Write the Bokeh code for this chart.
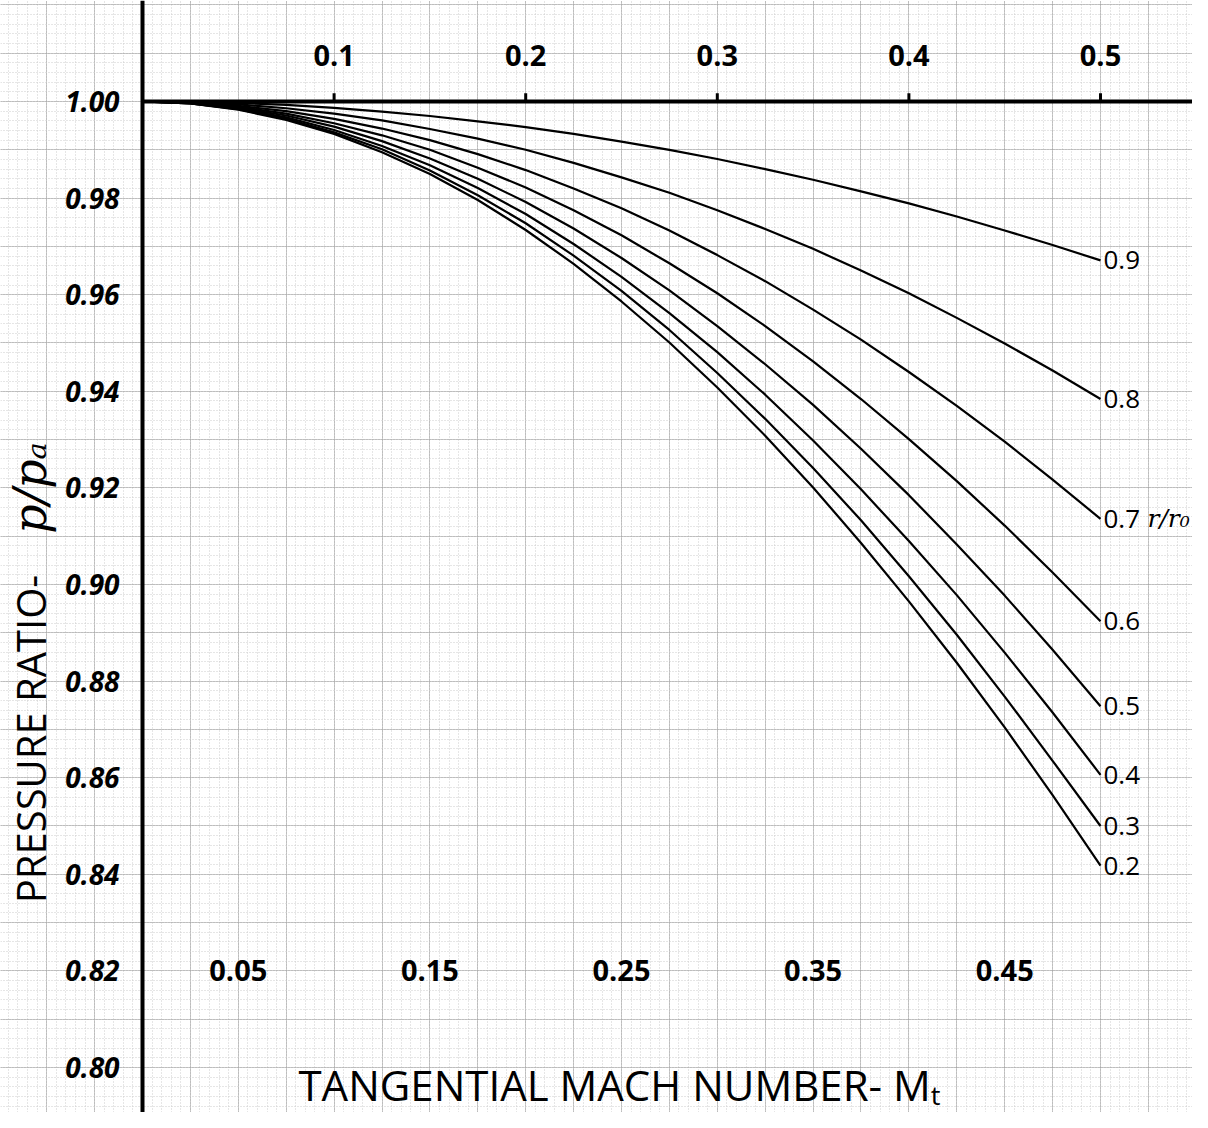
import math
import numpy as np
from bokeh.plotting import figure
from bokeh.models import Range1d, Grid, FixedTicker, Span, Label, ColumnDataSource
from bokeh.core.properties import value
from bokeh.embed import file_html
from bokeh.resources import INLINE

# ---------------- data ----------------
mach = [0.0, 0.025, 0.05, 0.075, 0.1, 0.125, 0.15, 0.175, 0.2, 0.225, 0.25,
        0.275, 0.3, 0.325, 0.35, 0.375, 0.4, 0.425, 0.45, 0.475, 0.5]

p_r02 = [1.0, 0.9996, 0.9983, 0.9962, 0.9933, 0.9895, 0.9850, 0.9796, 0.9734, 0.9664, 0.9586,
         0.9501, 0.9408, 0.9308, 0.9201, 0.9086, 0.8965, 0.8838, 0.8704, 0.8564, 0.8418]
p_r03 = [1.0, 0.9996, 0.9984, 0.9964, 0.9936, 0.9901, 0.9857, 0.9806, 0.9748, 0.9681, 0.9608,
         0.9527, 0.9438, 0.9343, 0.9241, 0.9133, 0.9017, 0.8896, 0.8768, 0.8635, 0.8500]
p_r04 = [1.0, 0.9996, 0.9985, 0.9967, 0.9941, 0.9908, 0.9868, 0.9821, 0.9767, 0.9705, 0.9637,
         0.9562, 0.9481, 0.9393, 0.9298, 0.9197, 0.9090, 0.8978, 0.8859, 0.8735, 0.8606]
p_r05 = [1.0, 0.9997, 0.9987, 0.9971, 0.9948, 0.9918, 0.9882, 0.9840, 0.9792, 0.9737, 0.9676,
         0.9609, 0.9535, 0.9456, 0.9372, 0.9281, 0.9185, 0.9083, 0.8977, 0.8865, 0.8748]
p_r06 = [1.0, 0.9997, 0.9989, 0.9975, 0.9955, 0.9930, 0.9900, 0.9863, 0.9822, 0.9775, 0.9723,
         0.9665, 0.9603, 0.9535, 0.9462, 0.9384, 0.9301, 0.9214, 0.9122, 0.9025, 0.8924]
p_r07 = [1.0, 0.9998, 0.9991, 0.9980, 0.9964, 0.9944, 0.9920, 0.9891, 0.9858, 0.9820, 0.9779,
         0.9733, 0.9682, 0.9628, 0.9569, 0.9507, 0.9440, 0.9370, 0.9296, 0.9217, 0.9136]
p_r08 = [1.0, 0.9998, 0.9994, 0.9986, 0.9975, 0.9961, 0.9943, 0.9923, 0.9900, 0.9873, 0.9843,
         0.9811, 0.9775, 0.9736, 0.9695, 0.9650, 0.9603, 0.9552, 0.9499, 0.9443, 0.9384]
p_r09 = [1.0, 0.9999, 0.9997, 0.9993, 0.9987, 0.9979, 0.9970, 0.9959, 0.9947, 0.9933, 0.9917,
         0.9900, 0.9881, 0.9860, 0.9838, 0.9814, 0.9789, 0.9762, 0.9733, 0.9703, 0.9671]

radius_labels = ["0.2", "0.3", "0.4", "0.5", "0.6", "0.7", "0.8", "0.9"]
series = [p_r02, p_r03, p_r04, p_r05, p_r06, p_r07, p_r08, p_r09]

top_ticks = [0.1, 0.2, 0.3, 0.4, 0.5]
top_tick_labels = ["0.1", "0.2", "0.3", "0.4", "0.5"]
bottom_ticks = [0.05, 0.15, 0.25, 0.35, 0.45]
bottom_tick_labels = ["0.05", "0.15", "0.25", "0.35", "0.45"]
y_ticks = [1.00, 0.98, 0.96, 0.94, 0.92, 0.90, 0.88, 0.86, 0.84, 0.82, 0.80]
y_tick_labels = ["1.00", "0.98", "0.96", "0.94", "0.92", "0.90", "0.88", "0.86", "0.84", "0.82", "0.80"]

# ---------------- figure ----------------
X0, X1 = -0.074113, 0.548017
Y0, Y1 = 0.790683, 1.020911
FONT = "Open Sans"

p = figure(width=1192, height=1112, x_range=Range1d(X0, X1), y_range=Range1d(Y0, Y1),
           output_backend="svg", toolbar_location=None, x_axis_type=None, y_axis_type=None,
           min_border=0)
p.outline_line_color = None
p.background_fill_color = "white"
p.border_fill_color = "white"

# graph-paper grid
xmaj = list(np.round(np.arange(-0.075, 0.576, 0.025), 4))
xmin = list(np.round(np.arange(-0.075, 0.556, 0.005), 4))
ymaj = list(np.round(np.arange(0.78, 1.031, 0.01), 4))
ymin = list(np.round(np.arange(0.786, 1.023, 0.002), 4))
for dim, maj, mn in ((0, xmaj, xmin), (1, ymaj, ymin)):
    g = Grid(dimension=dim, ticker=FixedTicker(ticks=maj, minor_ticks=mn),
             grid_line_color="#949494", grid_line_width=1, grid_line_dash="1 1",
             minor_grid_line_color="#cdcdcd", minor_grid_line_width=1, minor_grid_line_dash="1 2")
    p.add_layout(g)

# axes lines
p.add_layout(Span(location=0, dimension="height", line_color="black", line_width=4))
p.segment(x0=[0.0], y0=[1.0], x1=[X1], y1=[1.0], line_color="black", line_width=4)
p.segment(x0=top_ticks, y0=[1.0] * len(top_ticks), x1=top_ticks, y1=[1.0017] * len(top_ticks),
          line_color="black", line_width=3)

# curves
for vals in series:
    p.line(mach, vals, line_color="black", line_width=2.2, line_join="round")

# curve end labels
end_src = ColumnDataSource(dict(x=[mach[-1]] * len(series), y=[v[-1] for v in series],
                                text=radius_labels))
p.text(x="x", y="y", text="text", source=end_src, x_offset=3, text_align="left",
       text_baseline="middle", text_font=value(FONT), text_font_size="26px", text_color="black")
p.add_layout(Label(x=mach[-1], y=p_r07[-1], x_offset=47, text="r/r\u2080", text_font="DejaVu Serif",
                   text_font_style="italic", text_font_size="25px", text_baseline="middle",
                   text_align="left", text_color="black"))

# tick labels
p.text(x=[-0.0120] * len(y_ticks), y=y_ticks, text=y_tick_labels, text_align="right",
       text_baseline="middle", text_font=value(FONT), text_font_style="bold italic",
       text_font_size="28px", text_color="black")
p.text(x=top_ticks, y=[1.0095] * len(top_ticks), text=top_tick_labels, text_align="center",
       text_baseline="middle", text_font=value(FONT), text_font_style="bold",
       text_font_size="29px", text_color="black")
p.text(x=bottom_ticks, y=[0.82] * len(bottom_ticks), text=bottom_tick_labels, text_align="center",
       text_baseline="middle", text_font=value(FONT), text_font_style="bold",
       text_font_size="29px", text_color="black")

# axis titles
p.add_layout(Label(x=-0.0585, y=0.8340, angle=math.pi / 2, text="PRESSURE RATIO-",
                   text_font=FONT, text_font_size="40px", text_align="left",
                   text_baseline="middle", text_color="black"))
p.add_layout(Label(x=-0.0585, y=0.9105, angle=math.pi / 2, text="p/p\u2090",
                   text_font="DejaVu Serif", text_font_style="italic", text_font_size="46px",
                   text_align="left", text_baseline="middle", text_color="black"))
p.add_layout(Label(x=0.0814, y=0.79648, text="TANGENTIAL MACH NUMBER- M\u209c",
                   text_font=FONT, text_font_size="42px", text_align="left",
                   text_baseline="middle", text_color="black"))

open("out.html", "w").write(file_html(p, INLINE))
